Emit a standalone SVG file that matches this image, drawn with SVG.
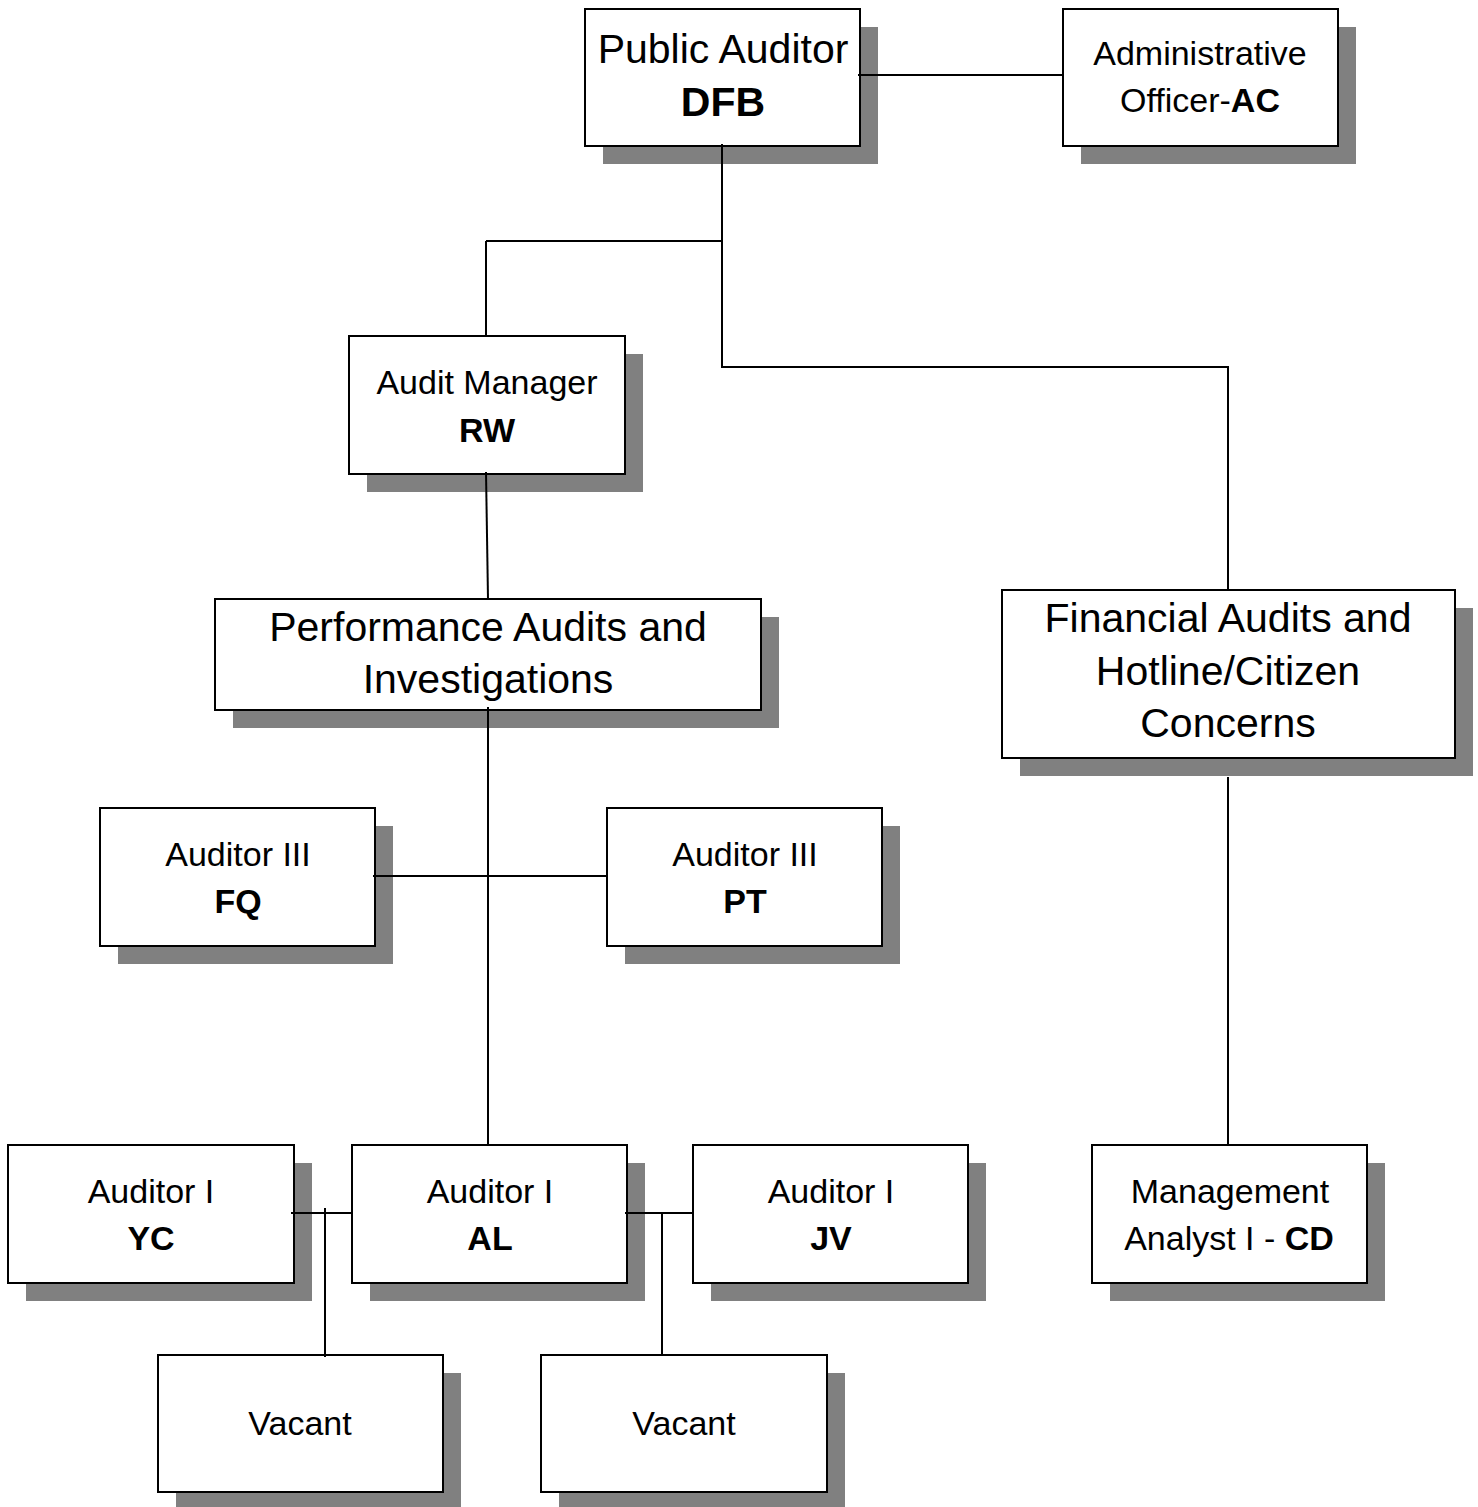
<svg xmlns="http://www.w3.org/2000/svg" width="1478" height="1507" viewBox="0 0 1478 1507">
<style>
.sh{fill:#808080}
.bx{fill:#fff;stroke:#000;stroke-width:2}
.c{fill:none;stroke:#000;stroke-width:2}
text{font-family:"Liberation Sans",Arial,sans-serif;fill:#000;text-anchor:middle}
.s{font-size:34px}
.L{font-size:41px}
.b{font-weight:bold}
</style>
<rect width="1478" height="1507" fill="#fff"/>
<g id="shadows">
<rect class="sh" x="603" y="27" width="275" height="137"/>
<rect class="sh" x="1081" y="27" width="275" height="137"/>
<rect class="sh" x="367" y="354" width="276" height="138"/>
<rect class="sh" x="233" y="617" width="546" height="111"/>
<rect class="sh" x="1020" y="608" width="453" height="168"/>
<rect class="sh" x="118" y="826" width="275" height="138"/>
<rect class="sh" x="625" y="826" width="275" height="138"/>
<rect class="sh" x="26" y="1163" width="286" height="138"/>
<rect class="sh" x="370" y="1163" width="275" height="138"/>
<rect class="sh" x="711" y="1163" width="275" height="138"/>
<rect class="sh" x="1110" y="1163" width="275" height="138"/>
<rect class="sh" x="176" y="1373" width="285" height="137"/>
<rect class="sh" x="559" y="1373" width="286" height="137"/>
</g>
<g id="public-auditor">
<rect class="bx" x="585" y="9" width="275" height="137"/>
<text class="L" x="723" y="63">Public Auditor</text>
<text class="L b" x="723" y="116">DFB</text>
</g>
<g id="admin-officer">
<rect class="bx" x="1063" y="9" width="275" height="137"/>
<text class="s" x="1200" y="65">Administrative</text>
<text class="s" x="1200" y="112">Officer-<tspan class="b">AC</tspan></text>
</g>
<g id="audit-manager">
<rect class="bx" x="349" y="336" width="276" height="138"/>
<text class="s" x="487" y="394">Audit Manager</text>
<text class="s b" x="487" y="442">RW</text>
</g>
<g id="performance">
<rect class="bx" x="215" y="599" width="546" height="111"/>
<text class="L" x="488" y="641">Performance Audits and</text>
<text class="L" x="488" y="693">Investigations</text>
</g>
<g id="financial">
<rect class="bx" x="1002" y="590" width="453" height="168"/>
<text class="L" x="1228" y="632">Financial Audits and</text>
<text class="L" x="1228" y="685">Hotline/Citizen</text>
<text class="L" x="1228" y="737">Concerns</text>
</g>
<g id="auditor3-fq">
<rect class="bx" x="100" y="808" width="275" height="138"/>
<text class="s" x="238" y="866">Auditor III</text>
<text class="s b" x="238" y="913">FQ</text>
</g>
<g id="auditor3-pt">
<rect class="bx" x="607" y="808" width="275" height="138"/>
<text class="s" x="745" y="866">Auditor III</text>
<text class="s b" x="745" y="913">PT</text>
</g>
<g id="auditor1-yc">
<rect class="bx" x="8" y="1145" width="286" height="138"/>
<text class="s" x="151" y="1203">Auditor I</text>
<text class="s b" x="151" y="1250">YC</text>
</g>
<g id="auditor1-al">
<rect class="bx" x="352" y="1145" width="275" height="138"/>
<text class="s" x="490" y="1203">Auditor I</text>
<text class="s b" x="490" y="1250">AL</text>
</g>
<g id="auditor1-jv">
<rect class="bx" x="693" y="1145" width="275" height="138"/>
<text class="s" x="831" y="1203">Auditor I</text>
<text class="s b" x="831" y="1250">JV</text>
</g>
<g id="mgmt-analyst">
<rect class="bx" x="1092" y="1145" width="275" height="138"/>
<text class="s" x="1230" y="1203">Management</text>
<text class="s" x="1229" y="1250">Analyst I - <tspan class="b">CD</tspan></text>
</g>
<g id="vacant-1">
<rect class="bx" x="158" y="1355" width="285" height="137"/>
<text class="s" x="300" y="1435">Vacant</text>
</g>
<g id="vacant-2">
<rect class="bx" x="541" y="1355" width="286" height="137"/>
<text class="s" x="684" y="1435">Vacant</text>
</g>
<g id="connectors">
<path class="c" d="M858 75H1063"/>
<path class="c" d="M722 144V367H1228V590"/>
<path class="c" d="M486 241H722"/>
<path class="c" d="M486 241V336"/>
<path class="c" d="M486 472L488 599"/>
<path class="c" d="M488 707V1145"/>
<path class="c" d="M373 876H607"/>
<path class="c" d="M1228 777V1145"/>
<path class="c" d="M291 1213H352"/>
<path class="c" d="M325 1208V1357"/>
<path class="c" d="M625 1213H693"/>
<path class="c" d="M662 1213V1355"/>
</g>
</svg>
